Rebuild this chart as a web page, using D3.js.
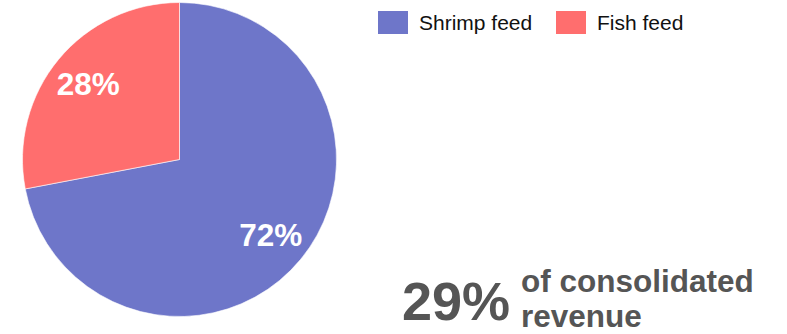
<!DOCTYPE html>
<html>
<head>
<meta charset="utf-8">
<script src="https://cdn.jsdelivr.net/npm/d3@7"></script>
<style>
  html, body { margin: 0; padding: 0; background: #fff; }
  svg { display: block; font-family: "Liberation Sans", Arial, sans-serif; }
</style>
</head>
<body>
<svg id="chart" width="787" height="334"></svg>
<script>
// Revenue split by feed type
const categories = ["Shrimp feed", "Fish feed"];
const values = [72, 28];
const colors = ["#6e76c9", "#ff6e6e"];
const headline = "29%";
const headlineText = ["of consolidated", "revenue"];

const svg = d3.select("#chart");
const cx = 179.5, cy = 159.5, radius = 157;

const pie = d3.pie().sort(null).value(d => d.value);
const arcs = pie(categories.map((c, i) => ({ name: c, value: values[i], color: colors[i] })));
const arc = d3.arc().innerRadius(0).outerRadius(radius);
const labelArc = d3.arc().innerRadius(radius * 0.755).outerRadius(radius * 0.755);

const g = svg.append("g").attr("transform", `translate(${cx},${cy})`);
g.selectAll("path.slice")
  .data(arcs)
  .join("path")
  .attr("class", "slice")
  .attr("d", arc)
  .attr("fill", d => d.data.color)
  .attr("stroke", "#fff")
  .attr("stroke-width", 0.6);

g.selectAll("text.pct")
  .data(arcs)
  .join("text")
  .attr("class", "pct")
  .attr("transform", d => `translate(${labelArc.centroid(d)})`)
  .attr("text-anchor", "middle")
  .attr("dy", "0.36em")
  .attr("fill", "#fff")
  .attr("font-weight", "bold")
  .attr("font-size", 31.5)
  .text(d => d.data.value + "%");

// Legend
const legendX = [378, 556];
const legend = svg.append("g");
const items = legend.selectAll("g.item")
  .data(arcs)
  .join("g")
  .attr("class", "item")
  .attr("transform", (d, i) => `translate(${legendX[i]},11)`);
items.append("rect")
  .attr("width", 30)
  .attr("height", 23)
  .attr("fill", d => d.data.color);
items.append("text")
  .attr("x", 41)
  .attr("y", 11.5)
  .attr("dy", "0.36em")
  .attr("font-size", 21)
  .attr("fill", "#111")
  .text(d => d.data.name);

// Headline share of revenue
const note = svg.append("g").attr("fill", "#555").attr("font-weight", "bold");
note.append("text")
  .attr("x", 402)
  .attr("y", 320)
  .attr("font-size", 54)
  .text(headline);
note.selectAll("text.sub")
  .data(headlineText)
  .join("text")
  .attr("class", "sub")
  .attr("x", 521)
  .attr("y", (d, i) => 292 + i * 35)
  .attr("font-size", 31.5)
  .text(d => d);
</script>
</body>
</html>
